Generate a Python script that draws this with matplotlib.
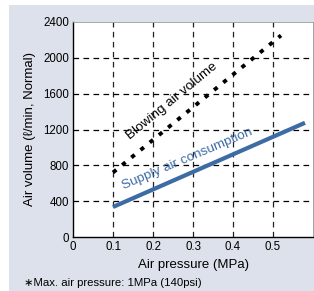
import matplotlib
matplotlib.use("Agg")
import matplotlib.pyplot as plt
from matplotlib.patches import Rectangle

plt.rcParams['font.family'] = ['Liberation Sans', 'DejaVu Sans']

pressure_blow = [0.1, 0.52]
volume_blow = [720, 2250]
pressure_supply = [0.1, 0.58]
volume_supply = [335, 1275]
xticks = [0, 0.1, 0.2, 0.3, 0.4, 0.5]
yticks = [0, 400, 800, 1200, 1600, 2000, 2400]

W, H = 314, 291
fig = plt.figure(figsize=(W/100, H/100), dpi=100)
fig.patch.set_facecolor("white")
fig.add_artist(Rectangle((9/W, 0), 1 - 9/W, 1 - 5/H, transform=fig.transFigure,
                         facecolor="#dde1eb", edgecolor="none", zorder=-5))

ax = fig.add_axes([73/W, 1 - 237/H, (313-73)/W, (237-22)/H])
ax.set_zorder(2)
ax.set_facecolor("white")
ax.set_xlim(0, 0.6)
ax.set_ylim(0, 2400)
ax.set_xticks(xticks)
ax.set_xticklabels(["0", "0.1", "0.2", "0.3", "0.4", "0.5"])
ax.set_yticks(yticks)
ax.set_yticklabels([str(v) for v in yticks])
ax.tick_params(length=0, labelsize=8.3, pad=3)

for v in xticks[1:]:
    ax.axvline(v, color="#222222", lw=0.9, ls=(0, (4.5, 3.5)), zorder=1)
for v in yticks[1:-1]:
    ax.axhline(v, color="black", lw=0.9, ls=(0, (4.5, 3.5)), zorder=1)

for s in ["left", "bottom"]:
    ax.spines[s].set_color("black")
    ax.spines[s].set_linewidth(1.0)
for s in ["top", "right"]:
    ax.spines[s].set_color("#999999")
    ax.spines[s].set_linewidth(0.6)

ax.plot(pressure_blow, volume_blow, color="black", lw=2.8, ls=(0, (1.1, 1.95)), zorder=3)
ax.plot(pressure_supply, volume_supply, color="#3d6ba3", lw=3.0, solid_capstyle="butt", zorder=3)

ax.text(0.253, 1495, "Blowing air volume", rotation=39.5, rotation_mode="anchor",
        ha="center", va="baseline", fontsize=9.7, color="black", zorder=4)
ax.text(0.2895, 841, "Supply air consumption", rotation=23, rotation_mode="anchor",
        ha="center", va="baseline", fontsize=9.7, color="#3d6ba3", zorder=4)

ax.set_xlabel("Air pressure (MPa)", fontsize=9.5, labelpad=4)
ax.set_ylabel("Air volume (\u2113/min, Normal)", fontsize=9.5, labelpad=5)

fig.text(24/W, 1 - 283/H, "\u2217Max. air pressure: 1MPa (140psi)", fontsize=8.2,
         ha="left", va="center")

fig.savefig("out.png", dpi=100)
